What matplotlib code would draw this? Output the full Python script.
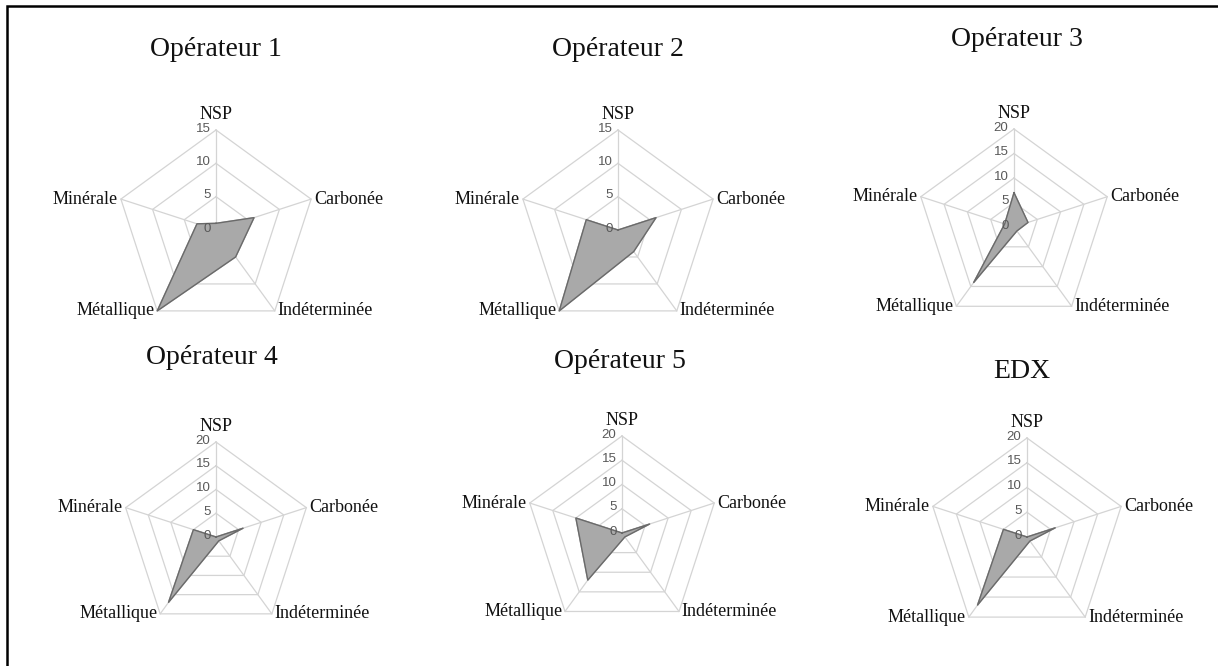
import numpy as np
import matplotlib.pyplot as plt
from matplotlib.patches import Rectangle

# axes, clockwise from the top
categories = ['NSP', 'Carbonée', 'Indéterminée', 'Métallique', 'Minérale']
titles = ['Opérateur 1', 'Opérateur 2', 'Opérateur 3', 'Opérateur 4', 'Opérateur 5', 'EDX']

op1 = [1, 6, 5, 15, 3]
op2 = [0, 6, 4, 15, 5]
op3 = [7, 3, 1, 14, 2]
op4 = [0, 6, 1, 17, 5]
op5 = [0, 6, 1, 12, 10]
edx = [0, 6, 1, 17, 5]
series = [op1, op2, op3, op4, op5, edx]
scale_max = [15, 15, 20, 20, 20, 20]

W, H = 1218, 666
fig = plt.figure(figsize=(W / 100, H / 100), dpi=100)

# centre x, centre y, radius (px from top-left), title position
layout = [
    (216, 230, 100, 216, 50),
    (618, 230, 100, 618, 50),
    (1014, 227, 98, 1017, 40),
    (216, 537, 95, 212, 358),
    (622, 533, 97, 620, 362),
    (1027, 537, 99, 1022, 372),
]

angles = np.linspace(0, 2 * np.pi, len(categories), endpoint=False)
closed = np.append(angles, angles[0])
grid_col = '#d4d4d4'

label_pos = {
    'NSP': ((0, 5), 'center', 'bottom'),
    'Carbonée': ((2, 0), 'left', 'center'),
    'Indéterminée': ((2, 0), 'left', 'center'),
    'Métallique': ((-2, 0), 'right', 'center'),
    'Minérale': ((-2, 0), 'right', 'center'),
}

for vals, vmax, title, (cx, cy, R, tx, ty) in zip(series, scale_max, titles, layout):
    ax = fig.add_axes([(cx - R) / W, 1 - (cy + R) / H, 2 * R / W, 2 * R / H],
                      projection='polar')
    ax.set_theta_offset(np.pi / 2)
    ax.set_theta_direction(-1)
    ax.set_ylim(0, vmax)
    ax.grid(False)
    ax.spines['polar'].set_visible(False)
    ax.set_xticks([])
    ax.set_yticks([])
    ax.patch.set_alpha(0)

    for r in range(5, vmax + 1, 5):
        ax.plot(closed, [r] * len(closed), color=grid_col, lw=0.9, clip_on=False)
    for a in angles:
        ax.plot([a, a], [0, vmax], color=grid_col, lw=0.9, clip_on=False)

    v = np.append(vals, vals[0])
    ax.fill(closed, v, color='#a9a9a9', zorder=3, clip_on=False)
    ax.plot(closed, v, color='#6a6a6a', lw=1.0, zorder=4, clip_on=False)

    for r in range(0, vmax + 1, 5):
        ax.annotate(str(r), xy=(0, r), xytext=(-4, 1), textcoords='offset points',
                    ha='right', va='center', fontsize=9.5, color='#595959',
                    family='Liberation Sans', zorder=5)

    for a, cat in zip(angles, categories):
        off, ha, va = label_pos[cat]
        ax.annotate(cat, xy=(a, vmax), xytext=off, textcoords='offset points',
                    ha=ha, va=va, fontsize=13, family='Liberation Serif',
                    color='#111111', annotation_clip=False)

    fig.text(tx / W, 1 - ty / H, title, ha='center', va='center', fontsize=20,
             family='Liberation Serif', color='#111111')

# frame (only left and top edges fall inside the picture)
fig.add_artist(Rectangle((7 / W, -0.1), 1.5, 1.1 - 6 / H, transform=fig.transFigure,
                         fill=False, edgecolor='black', lw=1.8))

fig.savefig('out.png', dpi=100)
